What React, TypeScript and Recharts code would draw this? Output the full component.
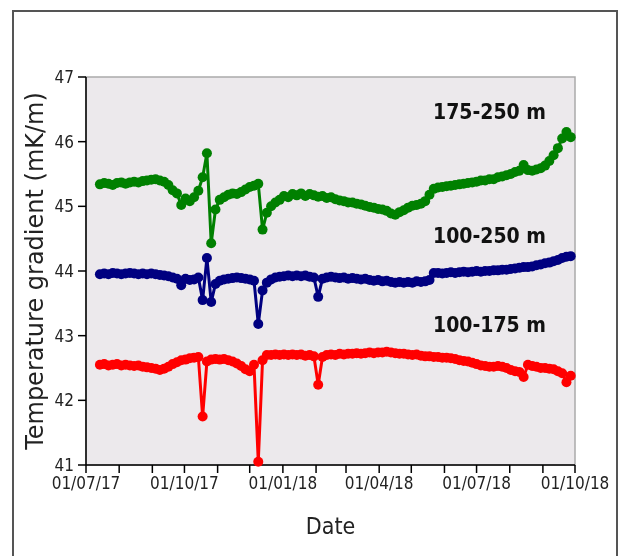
import { LineChart, Line, XAxis, YAxis, ReferenceArea } from "recharts"

// days since 01/07/17, sampled every 4 days
const days = [
  13, 17, 21, 25, 29, 33, 37, 41, 45, 49,
  53, 57, 61, 65, 69, 73, 77, 81, 85, 89,
  93, 97, 101, 105, 109, 113, 117, 121, 125, 129,
  133, 137, 141, 145, 149, 153, 157, 161, 165, 169,
  173, 177, 181, 185, 189, 193, 197, 201, 205, 209,
  213, 217, 221, 225, 229, 233, 237, 241, 245, 249,
  253, 257, 261, 265, 269, 273, 277, 281, 285, 289,
  293, 297, 301, 305, 309, 313, 317, 321, 325, 329,
  333, 337, 341, 345, 349, 353, 357, 361, 365, 369,
  373, 377, 381, 385, 389, 393, 397, 401, 405, 409,
  413, 417, 421, 425, 429, 433, 437, 441, 445, 449,
  453,
]

// 175-250 m
const grad175to250 = [
  45.34, 45.36, 45.35, 45.33, 45.36, 45.37, 45.35, 45.37, 45.38, 45.37,
  45.39, 45.4, 45.41, 45.42, 45.4, 45.38, 45.33, 45.25, 45.2, 45.02,
  45.12, 45.08, 45.14, 45.24, 45.45, 45.82, 44.43, 44.95, 45.1, 45.14,
  45.18, 45.2, 45.19, 45.22, 45.26, 45.3, 45.32, 45.35, 44.64, 44.9,
  45.0, 45.06, 45.1, 45.16, 45.14, 45.19, 45.17, 45.2, 45.16, 45.19,
  45.17, 45.15, 45.16, 45.13, 45.14, 45.11, 45.09, 45.08, 45.06, 45.06,
  45.04, 45.03, 45.01, 44.99, 44.98, 44.96, 44.95, 44.93, 44.89, 44.87,
  44.91, 44.94, 44.98, 45.01, 45.02, 45.04, 45.08, 45.18, 45.27, 45.29,
  45.3, 45.31, 45.32, 45.33, 45.34, 45.35, 45.36, 45.37, 45.38, 45.4,
  45.4, 45.42, 45.42, 45.45, 45.46, 45.48, 45.5, 45.53, 45.55, 45.64,
  45.56, 45.55, 45.57, 45.59, 45.63, 45.7, 45.79, 45.9, 46.05, 46.15,
  46.07,
]

// 100-250 m
const grad100to250 = [
  43.95, 43.96, 43.95, 43.97, 43.96, 43.95, 43.96, 43.97, 43.96, 43.95,
  43.96, 43.95, 43.96, 43.95, 43.94, 43.93, 43.92, 43.9, 43.88, 43.78,
  43.88, 43.86, 43.87, 43.9, 43.55, 44.2, 43.52, 43.8, 43.85, 43.87,
  43.88, 43.89, 43.9, 43.89, 43.88, 43.87, 43.85, 43.18, 43.7, 43.82,
  43.87, 43.9, 43.91, 43.92, 43.93, 43.92, 43.93, 43.92, 43.93, 43.91,
  43.9, 43.6, 43.88, 43.9, 43.91, 43.9, 43.89, 43.9, 43.88, 43.89,
  43.88, 43.87, 43.88, 43.86, 43.85, 43.86, 43.84, 43.85, 43.83, 43.82,
  43.83, 43.82, 43.83, 43.82, 43.84, 43.83, 43.84, 43.86, 43.97, 43.97,
  43.96, 43.97, 43.98, 43.97, 43.98, 43.99, 43.98, 43.99, 44.0, 43.99,
  44.0, 44.0, 44.01, 44.01, 44.02, 44.02, 44.03, 44.04, 44.05, 44.06,
  44.06, 44.07, 44.09, 44.1, 44.12, 44.13, 44.15, 44.17, 44.2, 44.22,
  44.23,
]

// 100-175 m
const grad100to175 = [
  42.55, 42.56, 42.54, 42.55, 42.56, 42.54, 42.55, 42.54, 42.53, 42.54,
  42.52, 42.51, 42.5, 42.49, 42.47, 42.49, 42.52, 42.56, 42.59, 42.62,
  42.63, 42.65, 42.66, 42.67, 41.75, 42.6, 42.63, 42.64, 42.63, 42.64,
  42.62, 42.6, 42.57, 42.53, 42.48, 42.45, 42.55, 41.05, 42.62, 42.7,
  42.7, 42.71, 42.7, 42.71, 42.7, 42.71, 42.7, 42.71, 42.69, 42.7,
  42.68, 42.24, 42.67, 42.7, 42.71, 42.7, 42.72, 42.71, 42.72, 42.72,
  42.73, 42.72, 42.73, 42.74, 42.73, 42.74, 42.74, 42.75, 42.74, 42.73,
  42.72, 42.72, 42.71, 42.7, 42.71, 42.69, 42.68, 42.68, 42.67, 42.67,
  42.66, 42.66, 42.65, 42.64, 42.62, 42.61, 42.6, 42.58, 42.56, 42.54,
  42.53, 42.52, 42.52, 42.53, 42.52, 42.5, 42.47, 42.45, 42.44, 42.36,
  42.55, 42.53, 42.52, 42.5, 42.5, 42.49, 42.48, 42.45, 42.42, 42.28,
  42.38,
]

// month starts (days since 01/07/17)
const monthTicks = [0, 31, 62, 92, 123, 153, 184, 215, 243, 274, 304, 335, 365, 396, 427, 457]
const labelDays = [0, 92, 184, 274, 365, 457]
const labelText = ["01/07/17", "01/10/17", "01/01/18", "01/04/18", "01/07/18", "01/10/18"]
const yTicks = [41, 42, 43, 44, 45, 46, 47]

const data = days.map((d, i) => ({
  day: d,
  g: grad175to250[i],
  b: grad100to250[i],
  r: grad100to175[i],
}))

const tickFmt = (v: number) => {
  const i = labelDays.indexOf(v)
  return i >= 0 ? labelText[i] : ""
}

const seriesLabel = {
  position: "absolute" as const,
  left: 421,
  fontWeight: "bold" as const,
  fontSize: 21,
  lineHeight: "22px",
  color: "#111",
}

export default function App() {
  return (
    <div
      style={{
        position: "relative",
        left: 4,
        top: 2,
        width: 600,
        height: 530,
        fontFamily: "'DejaVu Sans Condensed', 'DejaVu Sans', sans-serif",
      }}
    >
      <div
        style={{
          position: "fixed",
          left: 12,
          top: 10,
          width: 606,
          height: 560,
          boxSizing: "border-box",
          border: "2px solid #555",
        }}
      />
      <div style={{ position: "absolute", left: 0, top: 0 }}>
        <LineChart
          width={604}
          height={530}
          data={data}
          margin={{ top: 67, right: 41, left: 0, bottom: 0 }}
        >
          <XAxis
            dataKey="day"
            type="number"
            domain={[0, 457]}
            ticks={monthTicks}
            interval={0}
            tickFormatter={tickFmt}
            tickSize={8}
            tickMargin={4}
            height={75}
            stroke="#000"
            strokeWidth={1.5}
            tick={{ fill: "#222", fontSize: 17 }}
            label={{
              value: "Date",
              position: "insideBottom",
              offset: 6,
              style: { fontSize: 23, fill: "#222", fontFamily: "'DejaVu Sans Condensed', 'DejaVu Sans'" },
            }}
          />
          <YAxis
            type="number"
            domain={[41, 47]}
            ticks={yTicks}
            interval={0}
            tickSize={8}
            tickMargin={4}
            width={74}
            stroke="#000"
            strokeWidth={1.5}
            tick={{ fill: "#222", fontSize: 17 }}
            label={{
              value: "Temperature gradient (mK/m)",
              angle: -90,
              position: "insideLeft",
              offset: 22,
              style: { textAnchor: "middle", fontSize: 24, fill: "#222", fontFamily: "'DejaVu Sans'" },
            }}
          />
          <ReferenceArea
            x1={0}
            x2={457}
            y1={41}
            y2={47}
            fill="#ece9ec"
            fillOpacity={1}
            stroke="#aaa"
            strokeWidth={1.5}
          />
          <Line
            dataKey="g"
            stroke="#008000"
            strokeWidth={3}
            dot={{ r: 5, fill: "#008000", stroke: "none" }}
            isAnimationActive={false}
          />
          <Line
            dataKey="b"
            stroke="#000080"
            strokeWidth={3}
            dot={{ r: 5, fill: "#000080", stroke: "none" }}
            isAnimationActive={false}
          />
          <Line
            dataKey="r"
            stroke="#ff0000"
            strokeWidth={3}
            dot={{ r: 5, fill: "#ff0000", stroke: "none" }}
            isAnimationActive={false}
          />
        </LineChart>
      </div>
      <div style={{ ...seriesLabel, top: 91 }}>175-250 m</div>
      <div style={{ ...seriesLabel, top: 215 }}>100-250 m</div>
      <div style={{ ...seriesLabel, top: 304 }}>100-175 m</div>
    </div>
  )
}
